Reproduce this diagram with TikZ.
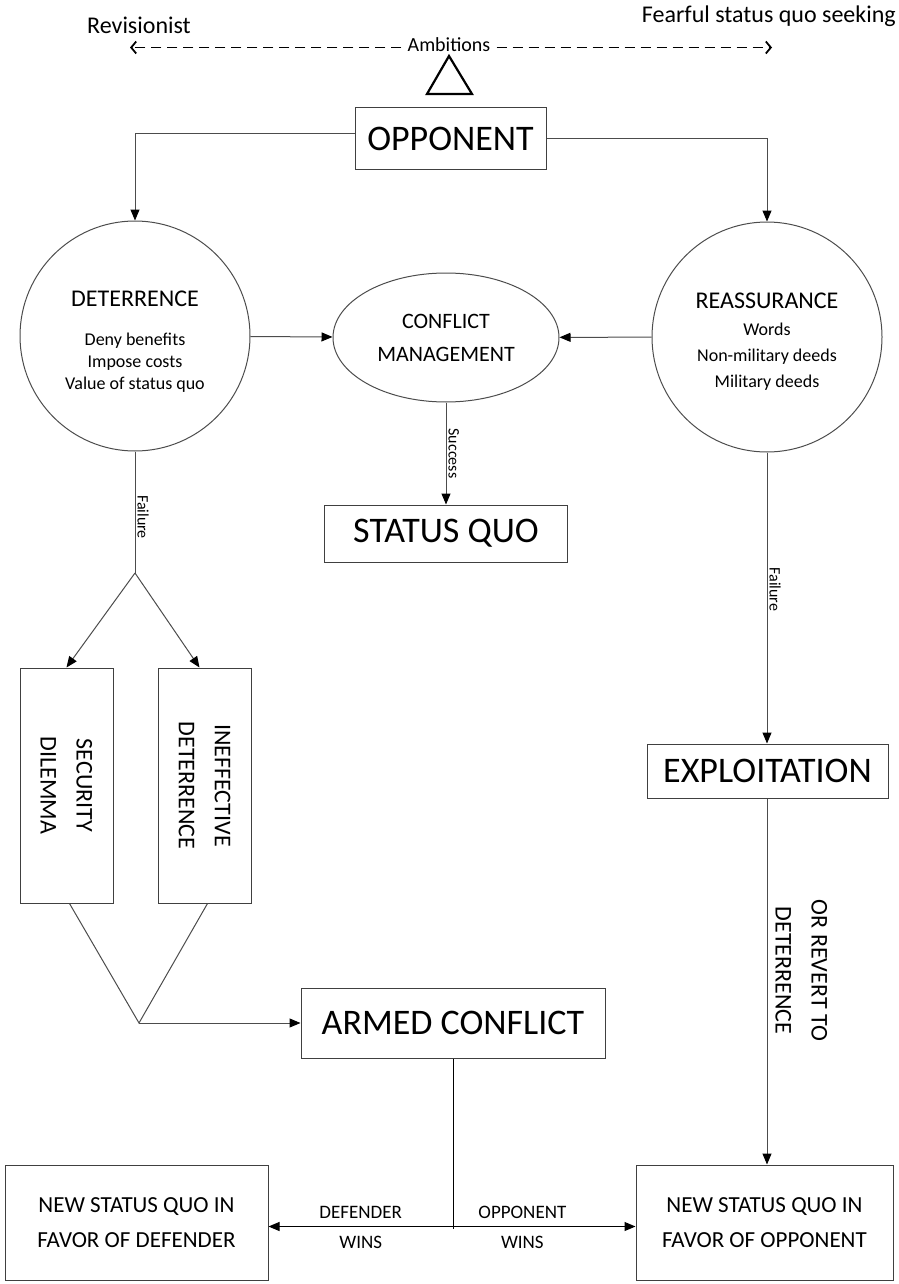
\documentclass[tikz,border=0pt]{standalone}
\usepackage{fontspec}
\setmainfont{Carlito}
\usetikzlibrary{arrows.meta, shapes.geometric, positioning}

\begin{document}
\begin{tikzpicture} [
						x=1pt, y=-1pt,
						line/.style={draw=black!70, line width=1pt},
						arrow/.style={line, -{Triangle[length=11pt, width=9pt, color=black]}},
						ambarrow/.style={draw=black, line width=1.8pt, dash pattern=on 10pt off 6pt,
							-{Straight Barb[length=5pt, width=12pt, line width=1.8pt]}},
						box/.style={draw=black!75, line width=1pt, inner sep=0pt, align=center},
						tallbox/.style={box, minimum width=93pt, minimum height=235pt},
						bubble/.style={circle, draw=black!70, line width=1pt, minimum size=230pt, inner sep=0pt},
						huge/.style={font=\fontsize{36}{40}\selectfont},
						title/.style={font=\fontsize{24}{36}\selectfont, align=center},
						small/.style={font=\fontsize{16}{18}\selectfont},
						outcome/.style={box, minimum height=115pt, font=\fontsize{23}{35}\selectfont},
						win/.style={font=\fontsize{19}{22}\selectfont}
					]

\useasboundingbox (0,0) rectangle (898,1284);

% ambitions scale
\node (rev) at (139,25) [font=\fontsize{24}{28}\selectfont] {Revisionist};
\node (fear) at (896,16) [anchor=east, inner sep=0pt, font=\fontsize{24}{28}\selectfont] {Fearful status quo seeking};
\node (amb) at (449,45) [font=\fontsize{20}{24}\selectfont, inner sep=6pt] {Ambitions};
\coordinate (revtip) at (130,47.5);
\coordinate (feartip) at (772,47.5);
\draw[ambarrow] (amb.west |- revtip) -- (revtip);
\draw[ambarrow] (amb.east |- feartip) -- (feartip);
\draw[line width=2.2pt] (449,56) -- (472,94) -- (427,94) -- cycle;

% top
\node (opp) [box, huge, minimum width=191pt, minimum height=62pt] at (450.5,139) {OPPONENT};
\node (det) [bubble] at (135,336) {};
\node (reas) [bubble] at (767,337) {};
\node (cm) [ellipse, draw=black!70, line width=1pt, minimum width=226pt, minimum height=129pt,
	align=center, font=\fontsize{22}{33}\selectfont] at (446,337.5) {CONFLICT\\MANAGEMENT};

\node (dettitle) [title] at (135,299) {DETERRENCE};
\node (detlist) [align=center, font=\fontsize{18}{22}\selectfont] at (135,363) {Deny benefits\\Impose costs\\Value of status quo};
\node (reastitle) [title] at (767,301) {REASSURANCE};
\node (reaslist) [align=center, font=\fontsize{18}{26}\selectfont] at (767,357) {Words\\Non-military deeds\\Military deeds};

\draw[arrow] ([yshift=5pt]opp.west) -| (det.north);
\draw[arrow] (opp.east) -| (reas.north);
\draw[arrow] (det) -- (cm);
\draw[arrow] (reas) -- (cm);

\node (sq) [box, huge, minimum width=243pt, minimum height=57pt] at (446,533.5) {STATUS QUO};
\draw[arrow] (cm) -- node[pos=.5, rotate=-90, anchor=south, small, inner sep=2pt] {Success} (sq);

% deterrence failure
\coordinate (split) at (135,573);
\node (secd) [tallbox] at (66.5,785.5) {};
\node (ineff) [tallbox, right=44pt of secd] {};
\node (secdtext) [title, rotate=-90] at (secd.center) {SECURITY\\DILEMMA};
\node (inefftext) [title, rotate=-90] at (ineff.center) {INEFFECTIVE\\DETERRENCE};

\draw[line] (det.south) -- node[pos=.54, rotate=-90, anchor=south, small, inner sep=2pt] {Failure} (split);
\draw[arrow] (split) -- (secd.north);
\draw[arrow] (split) -- ([xshift=-5pt]ineff.north);

\coordinate (join) at (139,1023);
\node (armed) [box, huge, minimum width=304pt, minimum height=70pt] at (453,1023) {ARMED CONFLICT};
\draw[line] ([xshift=3pt]secd.south) -- (join) -- ([xshift=3pt]ineff.south);
\draw[arrow] (join) -- (armed);

% reassurance failure
\node (expl) [box, huge, minimum width=241pt, minimum height=54pt] at (767.5,771) {EXPLOITATION};
\draw[arrow] (reas.south) -- node[pos=.47, rotate=-90, anchor=south, small, inner sep=2pt] {Failure} (expl.north -| reas.south);

% outcomes
\node (ndef) [outcome, minimum width=263pt] at (136.5,1222.5) {NEW STATUS QUO IN\\FAVOR OF DEFENDER};
\node (nopp) [outcome, minimum width=257pt] at (764.5,1222.5) {NEW STATUS QUO IN\\FAVOR OF OPPONENT};
\draw[arrow] (expl.south -| reas.south) -- node[pos=.47, rotate=-90, anchor=south, title, inner sep=8pt] {OR REVERT TO\\DETERRENCE} (nopp.north -| reas.south);

\path (armed.south) ++(0,168) coordinate (fork);
\draw[line, draw=black] (armed.south) -- ([yshift=-2pt]fork);
\draw[arrow, draw=black] (fork) -- node[above=4pt, win] {DEFENDER} node[below=6pt, win] {WINS} (fork -| ndef.east);
\draw[arrow, draw=black] (fork) -- node[pos=.38, above=4pt, win] {OPPONENT} node[pos=.38, below=6pt, win] {WINS} (fork -| nopp.west);
\end{tikzpicture}
\end{document}
